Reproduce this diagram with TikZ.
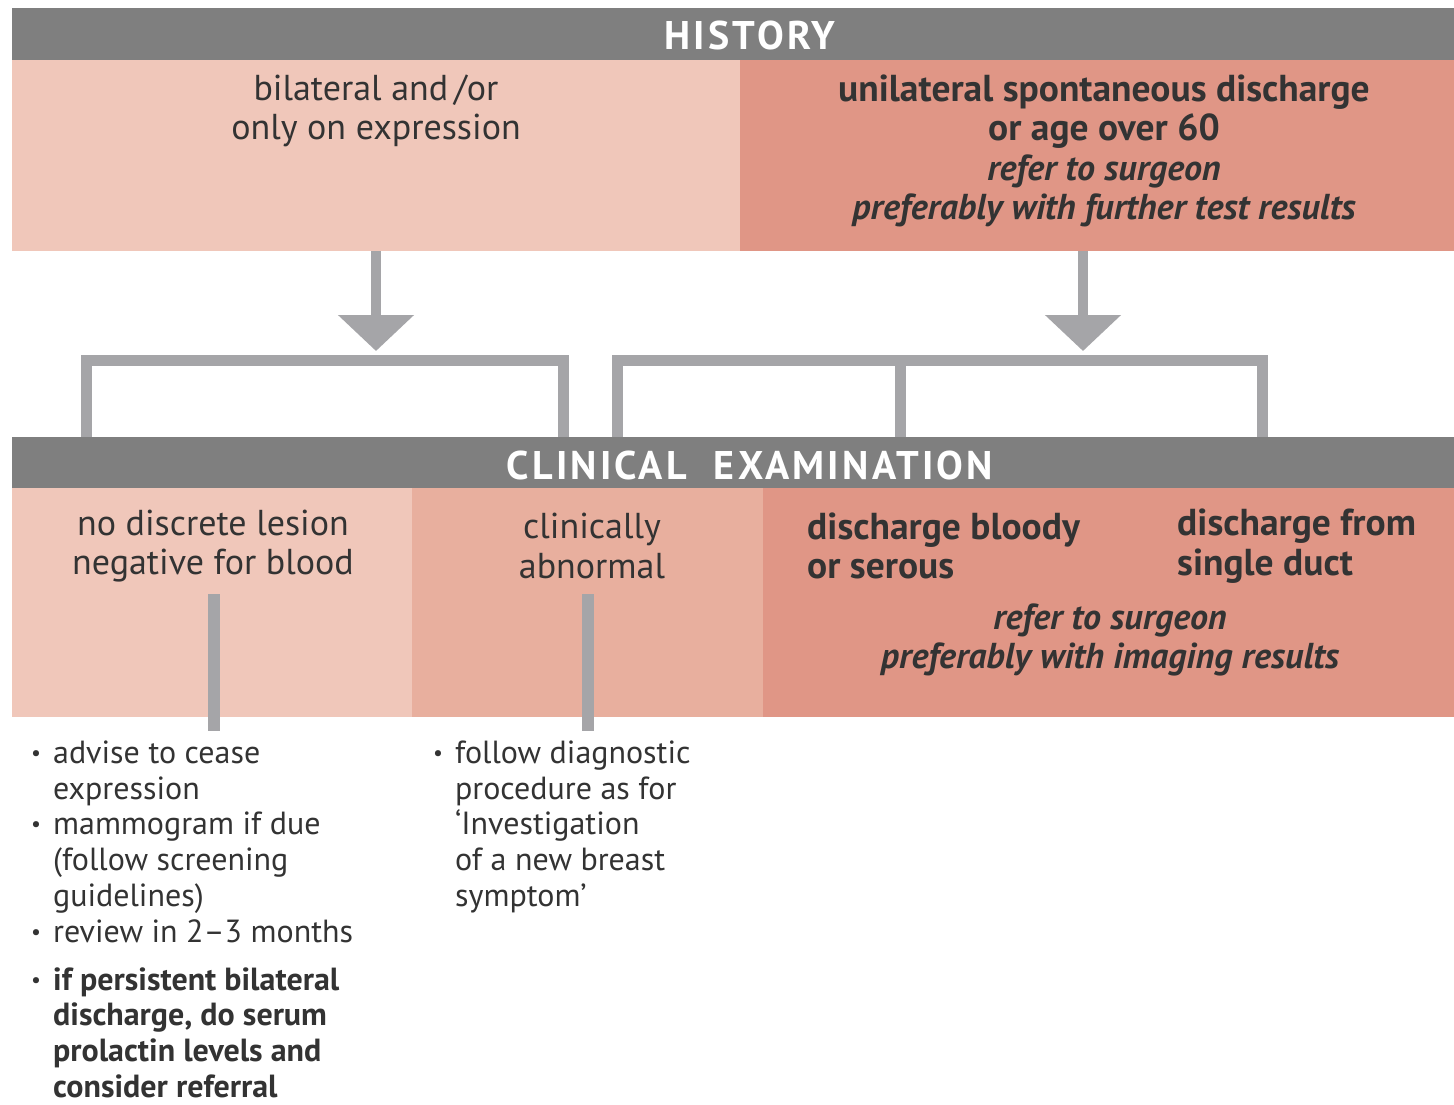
\documentclass[tikz,border=0pt]{standalone}
\usepackage{fontspec}
\setmainfont{PT Sans}
\usetikzlibrary{arrows.meta}
\definecolor{barg}{HTML}{7F7F7F}
\definecolor{lineg}{HTML}{A5A5A8}
\definecolor{pkA}{HTML}{F0C7BA}
\definecolor{pkB}{HTML}{E8AF9E}
\definecolor{pkC}{HTML}{E09686}
\definecolor{txt}{HTML}{333333}
\newcommand{\bfbig}{\fontsize{37.5}{39.5}\selectfont\bfseries}
\newcommand{\itbig}{\fontsize{36}{39.5}\selectfont\bfseries\itshape}
\newcommand{\blt}{{\fontsize{22}{22}\selectfont\raisebox{3pt}{•}}}
\begin{document}
\begin{tikzpicture}[x=1pt,y=-1pt,
  box/.style={anchor=north west, inner sep=0, outer sep=0, draw=none},
  bar/.style={box, fill=barg},
  bartext/.style={text=white, inner sep=0, font=\fontsize{40}{44}\selectfont\bfseries\addfontfeature{LetterSpace=8}},
  lbl/.style={text=txt, align=center, inner sep=0, font=\fontsize{36}{39.5}\selectfont},
  blbl/.style={lbl, font=\bfbig},
  llbl/.style={blbl, align=left, anchor=west},
  conn/.style={draw=lineg, line width=10pt},
  brk/.style={draw=lineg, line width=11pt, line join=miter},
  vline/.style={draw=lineg, line width=12pt},
  blist/.style={text=txt, anchor=north west, inner sep=0, font=\fontsize{32}{35.8}\selectfont},
]
\fill[white] (0,0) rectangle (1454,1105);
\useasboundingbox (0,0) rectangle (1454,1105);

% HISTORY
\node[bar, minimum width=1442, minimum height=52] (hist) at (12,8) {};
\node[bartext] (histt) at (750,36) {HISTORY};
\node[box, fill=pkA, minimum width=728, minimum height=191] (tl) at (12,60) {};
\node[box, fill=pkC, minimum width=714, minimum height=191] (tr) at (740,60) {};
\node[lbl] (tlt) at (376,111) {bilateral and\,/or\\only on expression};
\node[blbl] (trt) at (1104,151) {unilateral spontaneous discharge\\or age over 60\\\itbig refer to surgeon\\\itbig preferably with further test results};

% arrows
\coordinate (a1) at (376,351);
\coordinate (a2) at (1083,351);
\draw[conn, -{Triangle[length=36pt, width=74pt]}] (tl.south) -- (a1);
\draw[conn, -{Triangle[length=36pt, width=74pt]}] (a2 |- tr.south) -- (a2);

% CLINICAL EXAMINATION
\node[bar, minimum width=1442, minimum height=52] (ce) at (12,437) {};
\node[bartext] (cet) at (750,465) {CLINICAL\hspace{14pt} EXAMINATION};

% brackets
\draw[brk] (86,437) -- (86,360) -- (563,360) -- (563,437);
\draw[brk] (617,437) -- (617,360) -- (1262,360) -- (1262,437);
\draw[brk] (900,360) -- (900,437);

% bottom boxes
\node[box, fill=pkA, minimum width=400, minimum height=229] (b1) at (12,488) {};
\node[box, fill=pkB, minimum width=351, minimum height=229] (b2) at (412,488) {};
\node[box, fill=pkC, minimum width=691, minimum height=229] (b3) at (763,488) {};

\node[lbl] (b1t) at (213,546) {no discrete lesion\\negative for blood};
\node[lbl] (b2t) at (592,546) {clinically\\abnormal};
\node[llbl] (b3a) at (807,546) {discharge bloody\\or serous};
\node[llbl] (b3b) at (1177,546) {discharge from\\single duct};
\node[lbl, font=\itbig] (b3c) at (1110,640) {refer to surgeon\\preferably with imaging results};

% lists
\node[blist] (l1) at (31,738) {%
\begin{tabular}{@{}l@{\hspace{12pt}}l@{}}
\blt & advise to cease\\
 & expression\\
\blt & mammogram if due\\
 & (follow screening\\
 & guidelines)\\
\blt & review in 2–3 months\\[12pt]
\blt & \bfseries if persistent bilateral\\
 & \bfseries discharge, do serum\\
 & \bfseries prolactin levels and\\
 & \bfseries consider referral
\end{tabular}};
\node[blist] (l2) at (433,738) {%
\begin{tabular}{@{}l@{\hspace{12pt}}l@{}}
\blt & follow diagnostic\\
 & procedure as for\\
 & ‘Investigation\\
 & of a new breast\\
 & symptom’
\end{tabular}};

% connectors to lists
\coordinate (v1) at (214,731);
\coordinate (v2) at (588,731);
\draw[vline] (v1 |- 0,594) -- (v1);
\draw[vline] (v2 |- 0,594) -- (v2);
\end{tikzpicture}
\end{document}
